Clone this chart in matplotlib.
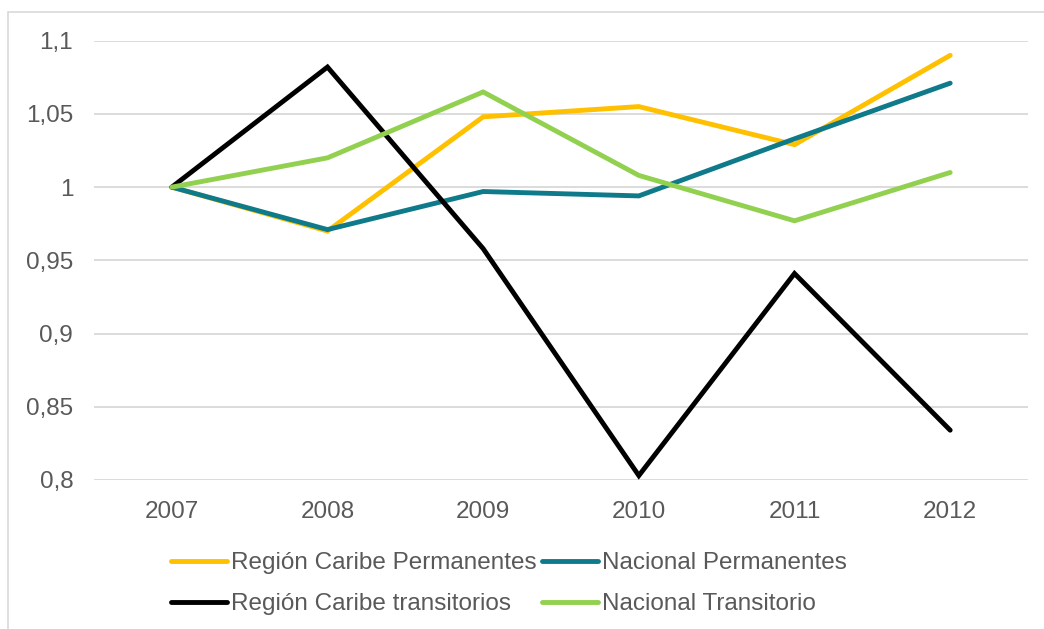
import matplotlib
matplotlib.use('Agg')
import matplotlib.pyplot as plt
from matplotlib.patches import Rectangle

# Data
years = ['2007', '2008', '2009', '2010', '2011', '2012']
caribe_perm = [1.000, 0.970, 1.048, 1.055, 1.029, 1.090]
nacional_perm = [1.000, 0.971, 0.997, 0.994, 1.033, 1.071]
caribe_trans = [1.000, 1.082, 0.958, 0.803, 0.941, 0.834]
nacional_trans = [1.000, 1.020, 1.065, 1.008, 0.977, 1.010]

y_ticks = [0.8, 0.85, 0.9, 0.95, 1.0, 1.05, 1.1]
y_tick_labels = ['0,8', '0,85', '0,9', '0,95', '1', '1,05', '1,1']

plt.rcParams['font.family'] = ['Liberation Sans', 'DejaVu Sans']

fig = plt.figure(figsize=(10.44, 6.29), dpi=100)
ax = fig.add_axes([0.090, 0.2369, 0.8947, 0.6984])

# Chart area border (left and top visible)
fig.patches.append(Rectangle((8 / 1044, -0.1), 1.2, 1.1 - 12 / 629,
                             transform=fig.transFigure, fill=False,
                             edgecolor='#d9d9d9', linewidth=1.2))

x = range(len(years))
style = dict(lw=3.5, solid_capstyle='round', solid_joinstyle='miter')
l1, = ax.plot(x, caribe_perm, color='#FFC000',
              label='Región Caribe Permanentes', **style)
l2, = ax.plot(x, nacional_perm, color='#0F7A8A',
              label='Nacional Permanentes', **style)
l3, = ax.plot(x, caribe_trans, color='#000000',
              label='Región Caribe transitorios', **style)
l4, = ax.plot(x, nacional_trans, color='#92D050',
              label='Nacional Transitorio', **style)

ax.set_xlim(-0.5, len(years) - 0.5)
ax.set_ylim(0.8, 1.1)
ax.set_xticks(list(x))
ax.set_xticklabels(years)
ax.set_yticks(y_ticks)
ax.set_yticklabels(y_tick_labels)
ax.tick_params(axis='both', length=0, labelsize=17.5, labelcolor='#595959')
ax.tick_params(axis='y', pad=15)
ax.tick_params(axis='x', pad=15)
ax.grid(axis='y', color='#d9d9d9', linewidth=1.3)
ax.set_axisbelow(True)
for s in ax.spines.values():
    s.set_visible(False)

legend_size = 17.5
em = legend_size * 100 / 72
leg = fig.legend([l1, l3, l2, l4],
                 [l1.get_label(), l3.get_label(), l2.get_label(), l4.get_label()],
                 ncol=2, loc='upper left', bbox_to_anchor=(0.164, 0.122),
                 frameon=False, handlelength=56 / em, fontsize=legend_size,
                 handletextpad=4 / em, columnspacing=5 / em,
                 labelspacing=19 / em,
                 borderpad=0, borderaxespad=0)
for t in leg.get_texts():
    t.set_color('#595959')

fig.savefig('out.png', dpi=100)
